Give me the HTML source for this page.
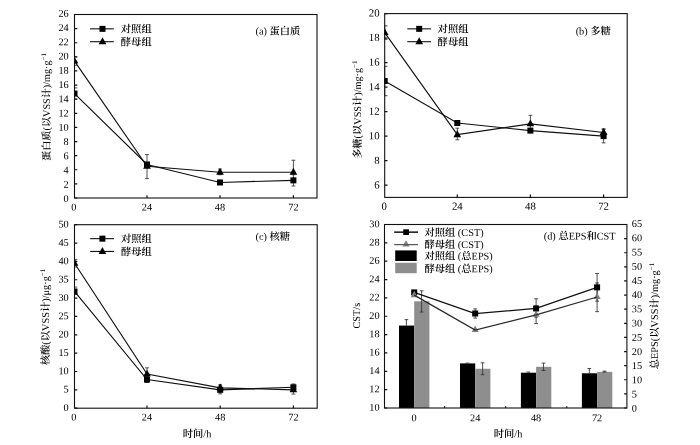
<!DOCTYPE html>
<html lang="zh"><head><meta charset="utf-8"><title>EPS</title>
<style>html,body{margin:0;padding:0;background:#fff}svg{display:block}text{font-family:"Liberation Serif", "Noto Serif CJK SC", serif;fill:#000;text-rendering:geometricPrecision}.c{font-weight:600}</style></head><body>
<svg width="700" height="445" viewBox="0 0 700 445">
<rect width="700" height="445" fill="#fff"/>
<clipPath id="ca"><rect x="74" y="10.5" width="243.5" height="191.5"/></clipPath>
<text transform="rotate(.05 68.7 202.08)" x="68.7" y="202.08" font-size="10.3" text-anchor="end">0</text>
<text transform="rotate(.05 68.7 187.84)" x="68.7" y="187.84" font-size="10.3" text-anchor="end">2</text>
<text transform="rotate(.05 68.7 173.59)" x="68.7" y="173.59" font-size="10.3" text-anchor="end">4</text>
<text transform="rotate(.05 68.7 159.34)" x="68.7" y="159.34" font-size="10.3" text-anchor="end">6</text>
<text transform="rotate(.05 68.7 145.1)" x="68.7" y="145.1" font-size="10.3" text-anchor="end">8</text>
<text transform="rotate(.05 68.7 130.85)" x="68.7" y="130.85" font-size="10.3" text-anchor="end">10</text>
<text transform="rotate(.05 68.7 116.6)" x="68.7" y="116.6" font-size="10.3" text-anchor="end">12</text>
<text transform="rotate(.05 68.7 102.36)" x="68.7" y="102.36" font-size="10.3" text-anchor="end">14</text>
<text transform="rotate(.05 68.7 88.11)" x="68.7" y="88.11" font-size="10.3" text-anchor="end">16</text>
<text transform="rotate(.05 68.7 73.87)" x="68.7" y="73.87" font-size="10.3" text-anchor="end">18</text>
<text transform="rotate(.05 68.7 59.62)" x="68.7" y="59.62" font-size="10.3" text-anchor="end">20</text>
<text transform="rotate(.05 68.7 45.37)" x="68.7" y="45.37" font-size="10.3" text-anchor="end">22</text>
<text transform="rotate(.05 68.7 31.13)" x="68.7" y="31.13" font-size="10.3" text-anchor="end">24</text>
<text transform="rotate(.05 68.7 16.88)" x="68.7" y="16.88" font-size="10.3" text-anchor="end">26</text>
<text transform="rotate(.05 73.9 210.5)" x="73.9" y="210.5" font-size="10.3" text-anchor="middle">0</text>
<text transform="rotate(.05 147 210.5)" x="147" y="210.5" font-size="10.3" text-anchor="middle">24</text>
<text transform="rotate(.05 220 210.5)" x="220" y="210.5" font-size="10.3" text-anchor="middle">48</text>
<text transform="rotate(.05 293.4 210.5)" x="293.4" y="210.5" font-size="10.3" text-anchor="middle">72</text>
<path d="M74.5 198h2.8M74.5 183.88h2.8M74.5 169.77h2.8M74.5 155.65h2.8M74.5 141.54h2.8M74.5 127.42h2.8M74.5 113.31h2.8M74.5 99.19h2.8M74.5 85.08h2.8M74.5 70.96h2.8M74.5 56.85h2.8M74.5 42.73h2.8M74.5 28.62h2.8M74.5 14.5h2.8M147 198v-2.8M220 198v-2.8M293.4 198v-2.8" stroke="#111" stroke-width="1.2" fill="none"/>
<g clip-path="url(#ca)">
<polyline fill="none" stroke="#111" stroke-width="1.15" points="74.5,93.55 147,164.48 220,182.47 293.4,180.36"/>
<polyline fill="none" stroke="#111" stroke-width="1.15" points="74.5,61.08 147,166.24 220,172.24 293.4,172.24"/>
<path d="M71.7 87.9h5.6M71.7 99.19h5.6M74.5 87.9V99.19" stroke="#2a2a2a" stroke-width="0.85" fill="none"/>
<path d="M145.1 154.6h3.8M145.1 178.59h3.8M147 154.6V178.59" stroke="#333" stroke-width="0.85" fill="none"/>
<path d="M218.1 181.06h3.8M218.1 183.88h3.8M220 181.06V183.88" stroke="#333" stroke-width="0.85" fill="none"/>
<path d="M291.5 174.71h3.8M291.5 186h3.8M293.4 174.71V186" stroke="#333" stroke-width="0.85" fill="none"/>
<path d="M71.7 56.85h5.6M71.7 65.32h5.6M74.5 56.85V65.32" stroke="#2a2a2a" stroke-width="0.85" fill="none"/>
<path d="M218.1 169.06h3.8M218.1 174.71h3.8M220 169.06V174.71" stroke="#333" stroke-width="0.85" fill="none"/>
<path d="M291.5 160.24h3.8M291.5 172.59h3.8M293.4 160.24V172.59" stroke="#333" stroke-width="0.85" fill="none"/>
<rect x="71.5" y="90.55" width="6.0" height="6.0" fill="#000"/>
<rect x="144" y="161.48" width="6.0" height="6.0" fill="#000"/>
<rect x="217" y="179.47" width="6.0" height="6.0" fill="#000"/>
<rect x="290.4" y="177.36" width="6.0" height="6.0" fill="#000"/>
<polygon points="74.5,56.66 70.65,63.56 78.35,63.56" fill="#000"/>
<polygon points="147,161.82 143.15,168.72 150.85,168.72" fill="#000"/>
<polygon points="220,167.82 216.15,174.72 223.85,174.72" fill="#000"/>
<polygon points="293.4,167.82 289.55,174.72 297.25,174.72" fill="#000"/>
</g>
<rect x="74.5" y="14.5" width="242.5" height="183.5" fill="none" stroke="#111" stroke-width="1.1"/>
<line x1="90" y1="28.85" x2="113.8" y2="28.85" stroke="#111" stroke-width="1.1"/>
<rect x="99.5" y="25.85" width="6.0" height="6.0" fill="#000"/>
<line x1="90" y1="41.7" x2="113.8" y2="41.7" stroke="#111" stroke-width="1.1"/>
<polygon points="102.5,37.28 98.65,44.18 106.35,44.18" fill="#000"/>
<text transform="rotate(.05 120.8 32.55)" x="120.8" y="32.55" font-size="10.3"><tspan class="c">对照组</tspan></text>
<text transform="rotate(.05 120.8 45.4)" x="120.8" y="45.4" font-size="10.3"><tspan class="c">酵母组</tspan></text>
<text transform="rotate(.05 255.5 34.5)" x="255.5" y="34.5" font-size="10.3">(a) <tspan class="c">蛋白质</tspan></text>
<text transform="translate(49.5,107) rotate(-90)" font-size="10.17" text-anchor="middle"><tspan class="c">蛋白质</tspan>(<tspan class="c">以</tspan>VSS<tspan class="c">计</tspan>)/mg·g<tspan dy="-4" font-size="7">−1</tspan></text>
<clipPath id="cb"><rect x="384.2" y="9.6" width="243.5" height="191.8"/></clipPath>
<text transform="rotate(.05 379.6 188.56)" x="379.6" y="188.56" font-size="10.8" text-anchor="end">6</text>
<text transform="rotate(.05 379.6 163.97)" x="379.6" y="163.97" font-size="10.8" text-anchor="end">8</text>
<text transform="rotate(.05 379.6 139.38)" x="379.6" y="139.38" font-size="10.8" text-anchor="end">10</text>
<text transform="rotate(.05 379.6 114.8)" x="379.6" y="114.8" font-size="10.8" text-anchor="end">12</text>
<text transform="rotate(.05 379.6 90.21)" x="379.6" y="90.21" font-size="10.8" text-anchor="end">14</text>
<text transform="rotate(.05 379.6 65.62)" x="379.6" y="65.62" font-size="10.8" text-anchor="end">16</text>
<text transform="rotate(.05 379.6 41.04)" x="379.6" y="41.04" font-size="10.8" text-anchor="end">18</text>
<text transform="rotate(.05 379.6 16.45)" x="379.6" y="16.45" font-size="10.8" text-anchor="end">20</text>
<text transform="rotate(.05 384.1 209.7)" x="384.1" y="209.7" font-size="10.8" text-anchor="middle">0</text>
<text transform="rotate(.05 457.3 209.7)" x="457.3" y="209.7" font-size="10.8" text-anchor="middle">24</text>
<text transform="rotate(.05 530.4 209.7)" x="530.4" y="209.7" font-size="10.8" text-anchor="middle">48</text>
<text transform="rotate(.05 603.6 209.7)" x="603.6" y="209.7" font-size="10.8" text-anchor="middle">72</text>
<path d="M384.7 185.15h2.8M384.7 160.64h2.8M384.7 136.13h2.8M384.7 111.63h2.8M384.7 87.12h2.8M384.7 62.61h2.8M384.7 38.11h2.8M384.7 13.6h2.8M457.3 197.4v-2.8M530.4 197.4v-2.8M603.6 197.4v-2.8" stroke="#111" stroke-width="1.2" fill="none"/>
<g clip-path="url(#cb)">
<polyline fill="none" stroke="#111" stroke-width="1.15" points="384.7,80.99 457.3,123.02 530.4,130.62 603.6,136.13"/>
<polyline fill="none" stroke="#111" stroke-width="1.15" points="384.7,32.59 457.3,134.66 530.4,123.88 603.6,132.46"/>
<path d="M381.9 66.29h5.6M381.9 95.7h5.6M384.7 66.29V95.7" stroke="#2a2a2a" stroke-width="0.85" fill="none"/>
<path d="M601.7 129.39h3.8M601.7 142.87h3.8M603.6 129.39V142.87" stroke="#333" stroke-width="0.85" fill="none"/>
<path d="M381.9 25.85h5.6M381.9 39.33h5.6M384.7 25.85V39.33" stroke="#2a2a2a" stroke-width="0.85" fill="none"/>
<path d="M455.4 128.17h3.8M455.4 139.81h3.8M457.3 128.17V139.81" stroke="#333" stroke-width="0.85" fill="none"/>
<path d="M528.5 115.3h3.8M528.5 132.46h3.8M530.4 115.3V132.46" stroke="#333" stroke-width="0.85" fill="none"/>
<path d="M601.7 128.78h3.8M601.7 136.13h3.8M603.6 128.78V136.13" stroke="#333" stroke-width="0.85" fill="none"/>
<rect x="381.7" y="77.99" width="6.0" height="6.0" fill="#000"/>
<rect x="454.3" y="120.02" width="6.0" height="6.0" fill="#000"/>
<rect x="527.4" y="127.62" width="6.0" height="6.0" fill="#000"/>
<rect x="600.6" y="133.13" width="6.0" height="6.0" fill="#000"/>
<polygon points="384.7,28.18 380.85,35.08 388.55,35.08" fill="#000"/>
<polygon points="457.3,130.25 453.45,137.15 461.15,137.15" fill="#000"/>
<polygon points="530.4,119.46 526.55,126.36 534.25,126.36" fill="#000"/>
<polygon points="603.6,128.04 599.75,134.94 607.45,134.94" fill="#000"/>
</g>
<rect x="384.7" y="13.6" width="242.5" height="183.8" fill="none" stroke="#111" stroke-width="1.1"/>
<line x1="407.3" y1="28.85" x2="431" y2="28.85" stroke="#111" stroke-width="1.1"/>
<rect x="416.2" y="25.85" width="6.0" height="6.0" fill="#000"/>
<line x1="407.3" y1="41.7" x2="431" y2="41.7" stroke="#111" stroke-width="1.1"/>
<polygon points="419.2,37.28 415.35,44.18 423.05,44.18" fill="#000"/>
<text transform="rotate(.05 437.6 32.55)" x="437.6" y="32.55" font-size="10.3"><tspan class="c">对照组</tspan></text>
<text transform="rotate(.05 437.6 45.4)" x="437.6" y="45.4" font-size="10.3"><tspan class="c">酵母组</tspan></text>
<text transform="rotate(.05 575.7 34.4)" x="575.7" y="34.4" font-size="10.3">(b) <tspan class="c">多糖</tspan></text>
<text transform="translate(360.7,109.65) rotate(-90)" font-size="10.24" text-anchor="middle"><tspan class="c">多糖</tspan>(<tspan class="c">以</tspan>VSS<tspan class="c">计</tspan>)/mg·g<tspan dy="-4" font-size="7">−1</tspan></text>
<clipPath id="cc"><rect x="74" y="220.7" width="243.7" height="191.5"/></clipPath>
<text transform="rotate(.05 68.7 410.98)" x="68.7" y="410.98" font-size="10.3" text-anchor="end">0</text>
<text transform="rotate(.05 68.7 392.64)" x="68.7" y="392.64" font-size="10.3" text-anchor="end">5</text>
<text transform="rotate(.05 68.7 374.3)" x="68.7" y="374.3" font-size="10.3" text-anchor="end">10</text>
<text transform="rotate(.05 68.7 355.96)" x="68.7" y="355.96" font-size="10.3" text-anchor="end">15</text>
<text transform="rotate(.05 68.7 337.62)" x="68.7" y="337.62" font-size="10.3" text-anchor="end">20</text>
<text transform="rotate(.05 68.7 319.28)" x="68.7" y="319.28" font-size="10.3" text-anchor="end">25</text>
<text transform="rotate(.05 68.7 300.94)" x="68.7" y="300.94" font-size="10.3" text-anchor="end">30</text>
<text transform="rotate(.05 68.7 282.6)" x="68.7" y="282.6" font-size="10.3" text-anchor="end">35</text>
<text transform="rotate(.05 68.7 264.26)" x="68.7" y="264.26" font-size="10.3" text-anchor="end">40</text>
<text transform="rotate(.05 68.7 245.92)" x="68.7" y="245.92" font-size="10.3" text-anchor="end">45</text>
<text transform="rotate(.05 68.7 227.58)" x="68.7" y="227.58" font-size="10.3" text-anchor="end">50</text>
<text transform="rotate(.05 73.9 420.6)" x="73.9" y="420.6" font-size="10.3" text-anchor="middle">0</text>
<text transform="rotate(.05 147 420.6)" x="147" y="420.6" font-size="10.3" text-anchor="middle">24</text>
<text transform="rotate(.05 220.2 420.6)" x="220.2" y="420.6" font-size="10.3" text-anchor="middle">48</text>
<text transform="rotate(.05 293.4 420.6)" x="293.4" y="420.6" font-size="10.3" text-anchor="middle">72</text>
<path d="M74.5 408.2h2.8M74.5 389.85h2.8M74.5 371.5h2.8M74.5 353.15h2.8M74.5 334.8h2.8M74.5 316.45h2.8M74.5 298.1h2.8M74.5 279.75h2.8M74.5 261.4h2.8M74.5 243.05h2.8M74.5 224.7h2.8M147 408.2v-2.8M220.2 408.2v-2.8M293.4 408.2v-2.8" stroke="#111" stroke-width="1.2" fill="none"/>
<g clip-path="url(#cc)">
<polyline fill="none" stroke="#111" stroke-width="1.15" points="74.5,291.49 147,379.57 220.2,389.85 293.4,387.28"/>
<polyline fill="none" stroke="#111" stroke-width="1.15" points="74.5,263.24 147,374.07 220.2,387.83 293.4,389.85"/>
<path d="M71.7 287.09h5.6M71.7 294.43h5.6M74.5 287.09V294.43" stroke="#2a2a2a" stroke-width="0.85" fill="none"/>
<path d="M145.1 376.64h3.8M145.1 382.51h3.8M147 376.64V382.51" stroke="#333" stroke-width="0.85" fill="none"/>
<path d="M218.3 385.81h3.8M218.3 393.89h3.8M220.2 385.81V393.89" stroke="#333" stroke-width="0.85" fill="none"/>
<path d="M291.5 383.98h3.8M291.5 389.85h3.8M293.4 383.98V389.85" stroke="#333" stroke-width="0.85" fill="none"/>
<path d="M71.7 259.56h5.6M71.7 266.9h5.6M74.5 259.56V266.9" stroke="#2a2a2a" stroke-width="0.85" fill="none"/>
<path d="M145.1 367.83h3.8M145.1 380.31h3.8M147 367.83V380.31" stroke="#333" stroke-width="0.85" fill="none"/>
<path d="M218.3 384.71h3.8M218.3 389.85h3.8M220.2 384.71V389.85" stroke="#333" stroke-width="0.85" fill="none"/>
<path d="M291.5 385.45h3.8M291.5 394.07h3.8M293.4 385.45V394.07" stroke="#333" stroke-width="0.85" fill="none"/>
<rect x="71.5" y="288.49" width="6.0" height="6.0" fill="#000"/>
<rect x="144" y="376.57" width="6.0" height="6.0" fill="#000"/>
<rect x="217.2" y="386.85" width="6.0" height="6.0" fill="#000"/>
<rect x="290.4" y="384.28" width="6.0" height="6.0" fill="#000"/>
<polygon points="74.5,258.82 70.65,265.72 78.35,265.72" fill="#000"/>
<polygon points="147,369.65 143.15,376.55 150.85,376.55" fill="#000"/>
<polygon points="220.2,383.42 216.35,390.32 224.05,390.32" fill="#000"/>
<polygon points="293.4,385.43 289.55,392.33 297.25,392.33" fill="#000"/>
</g>
<rect x="74.5" y="224.7" width="242.7" height="183.5" fill="none" stroke="#111" stroke-width="1.1"/>
<line x1="90.2" y1="238.65" x2="114" y2="238.65" stroke="#111" stroke-width="1.1"/>
<rect x="99.4" y="235.65" width="6.0" height="6.0" fill="#000"/>
<line x1="90.2" y1="251.45" x2="114" y2="251.45" stroke="#111" stroke-width="1.1"/>
<polygon points="102.4,247.03 98.55,253.93 106.25,253.93" fill="#000"/>
<text transform="rotate(.05 121 242.35)" x="121" y="242.35" font-size="10.3"><tspan class="c">对照组</tspan></text>
<text transform="rotate(.05 121 255.15)" x="121" y="255.15" font-size="10.3"><tspan class="c">酵母组</tspan></text>
<text transform="rotate(.05 255.5 240)" x="255.5" y="240" font-size="10.3">(c) <tspan class="c">核糖</tspan></text>
<text transform="translate(49.2,317) rotate(-90)" font-size="10.3" text-anchor="middle"><tspan class="c">核酸</tspan>(<tspan class="c">以</tspan>VSS<tspan class="c">计</tspan>)/μg·g<tspan dy="-4" font-size="7">−1</tspan></text>
<text transform="rotate(.05 197 437.3)" x="197" y="437.3" font-size="10.3" text-anchor="middle"><tspan class="c">时间</tspan>/h</text>
<rect x="399" y="325.57" width="15.2" height="82.43" fill="#000"/>
<path d="M406.4 325.57V319.64m-1.8 0h3.6" stroke="#333" stroke-width="0.9" fill="none"/>
<rect x="460" y="363.4" width="15.2" height="44.6" fill="#000"/>
<path d="M467.4 363.4V363.11m-1.8 0h3.6" stroke="#333" stroke-width="0.9" fill="none"/>
<rect x="520.9" y="372.71" width="15.2" height="35.29" fill="#000"/>
<path d="M528.3 372.71V372.01m-1.8 0h3.6" stroke="#333" stroke-width="0.9" fill="none"/>
<rect x="581.9" y="373.28" width="15.2" height="34.72" fill="#000"/>
<path d="M589.3 373.28V368.48m-1.8 0h3.6" stroke="#333" stroke-width="0.9" fill="none"/>
<rect x="414.2" y="301.29" width="15.2" height="106.71" fill="#8e8e8e"/>
<path d="M419.7 290.84h3.8M419.7 312.02h3.8M421.6 290.84V312.02" stroke="#333" stroke-width="0.85" fill="none"/>
<rect x="475.2" y="368.76" width="15.2" height="39.24" fill="#8e8e8e"/>
<path d="M480.7 362.83h3.8M480.7 374.69h3.8M482.6 362.83V374.69" stroke="#333" stroke-width="0.85" fill="none"/>
<rect x="536.1" y="366.78" width="15.2" height="41.22" fill="#8e8e8e"/>
<path d="M541.6 363.11h3.8M541.6 370.45h3.8M543.5 363.11V370.45" stroke="#333" stroke-width="0.85" fill="none"/>
<rect x="597.1" y="371.86" width="15.2" height="36.14" fill="#8e8e8e"/>
<path d="M602.6 371.16h3.8M602.6 372.01h3.8M604.5 371.16V372.01" stroke="#333" stroke-width="0.85" fill="none"/>
<text transform="rotate(.05 379.6 410.68)" x="379.6" y="410.68" font-size="10.3" text-anchor="end">10</text>
<text transform="rotate(.05 379.6 392.33)" x="379.6" y="392.33" font-size="10.3" text-anchor="end">12</text>
<text transform="rotate(.05 379.6 373.98)" x="379.6" y="373.98" font-size="10.3" text-anchor="end">14</text>
<text transform="rotate(.05 379.6 355.63)" x="379.6" y="355.63" font-size="10.3" text-anchor="end">16</text>
<text transform="rotate(.05 379.6 337.28)" x="379.6" y="337.28" font-size="10.3" text-anchor="end">18</text>
<text transform="rotate(.05 379.6 318.93)" x="379.6" y="318.93" font-size="10.3" text-anchor="end">20</text>
<text transform="rotate(.05 379.6 300.58)" x="379.6" y="300.58" font-size="10.3" text-anchor="end">22</text>
<text transform="rotate(.05 379.6 282.23)" x="379.6" y="282.23" font-size="10.3" text-anchor="end">24</text>
<text transform="rotate(.05 379.6 263.88)" x="379.6" y="263.88" font-size="10.3" text-anchor="end">26</text>
<text transform="rotate(.05 379.6 245.53)" x="379.6" y="245.53" font-size="10.3" text-anchor="end">28</text>
<text transform="rotate(.05 379.6 227.18)" x="379.6" y="227.18" font-size="10.3" text-anchor="end">30</text>
<text transform="rotate(.05 631.8 411.68)" x="631.8" y="411.68" font-size="10.3">0</text>
<text transform="rotate(.05 631.8 397.48)" x="631.8" y="397.48" font-size="10.3">5</text>
<text transform="rotate(.05 631.8 383.28)" x="631.8" y="383.28" font-size="10.3">10</text>
<text transform="rotate(.05 631.8 369.08)" x="631.8" y="369.08" font-size="10.3">15</text>
<text transform="rotate(.05 631.8 354.88)" x="631.8" y="354.88" font-size="10.3">20</text>
<text transform="rotate(.05 631.8 340.68)" x="631.8" y="340.68" font-size="10.3">25</text>
<text transform="rotate(.05 631.8 326.48)" x="631.8" y="326.48" font-size="10.3">30</text>
<text transform="rotate(.05 631.8 312.28)" x="631.8" y="312.28" font-size="10.3">35</text>
<text transform="rotate(.05 631.8 298.08)" x="631.8" y="298.08" font-size="10.3">40</text>
<text transform="rotate(.05 631.8 283.88)" x="631.8" y="283.88" font-size="10.3">45</text>
<text transform="rotate(.05 631.8 269.68)" x="631.8" y="269.68" font-size="10.3">50</text>
<text transform="rotate(.05 631.8 255.48)" x="631.8" y="255.48" font-size="10.3">55</text>
<text transform="rotate(.05 631.8 241.28)" x="631.8" y="241.28" font-size="10.3">60</text>
<text transform="rotate(.05 631.8 227.08)" x="631.8" y="227.08" font-size="10.3">65</text>
<text transform="rotate(.05 414.2 421.2)" x="414.2" y="421.2" font-size="10.3" text-anchor="middle">0</text>
<text transform="rotate(.05 475.2 421.2)" x="475.2" y="421.2" font-size="10.3" text-anchor="middle">24</text>
<text transform="rotate(.05 536.1 421.2)" x="536.1" y="421.2" font-size="10.3" text-anchor="middle">48</text>
<text transform="rotate(.05 597.1 421.2)" x="597.1" y="421.2" font-size="10.3" text-anchor="middle">72</text>
<path d="M384.5 408h2.8M384.5 389.65h2.8M384.5 371.3h2.8M384.5 352.95h2.8M384.5 334.6h2.8M384.5 316.25h2.8M384.5 297.9h2.8M384.5 279.55h2.8M384.5 261.2h2.8M384.5 242.85h2.8M384.5 224.5h2.8M626.9 408h-2.8M626.9 393.88h-2.8M626.9 379.77h-2.8M626.9 365.65h-2.8M626.9 351.54h-2.8M626.9 337.42h-2.8M626.9 323.31h-2.8M626.9 309.19h-2.8M626.9 295.08h-2.8M626.9 280.96h-2.8M626.9 266.85h-2.8M626.9 252.73h-2.8M626.9 238.62h-2.8M626.9 224.5h-2.8M444.6 408v-1.8M505.6 408v-1.8M566.7 408v-1.8" stroke="#111" stroke-width="1.2" fill="none"/>
<path d="M473.3 308.91h3.8M473.3 318.08h3.8M475.2 308.91V318.08" stroke="#333" stroke-width="0.85" fill="none"/>
<path d="M534.2 298.82h3.8M534.2 317.17h3.8M536.1 298.82V317.17" stroke="#333" stroke-width="0.85" fill="none"/>
<path d="M595.2 273.59h3.8M595.2 301.2h3.8M597.1 273.59V301.2" stroke="#333" stroke-width="0.85" fill="none"/>
<path d="M534.2 306.16h3.8M534.2 323.59h3.8M536.1 306.16V323.59" stroke="#333" stroke-width="0.85" fill="none"/>
<path d="M595.2 282.94h3.8M595.2 311.66h3.8M597.1 282.94V311.66" stroke="#333" stroke-width="0.85" fill="none"/>
<polyline fill="none" stroke="#111" stroke-width="1.25" points="414.2,292.39 475.2,313.5 536.1,308.45 597.1,287.35"/>
<rect x="411.2" y="289.39" width="6.0" height="6.0" fill="#000"/>
<rect x="472.2" y="310.5" width="6.0" height="6.0" fill="#000"/>
<rect x="533.1" y="305.45" width="6.0" height="6.0" fill="#000"/>
<rect x="594.1" y="284.35" width="6.0" height="6.0" fill="#000"/>
<polygon points="414.2,290.75 410.7,297.15 417.7,297.15" fill="#808080"/>
<polygon points="475.2,325.61 471.7,332.01 478.7,332.01" fill="#808080"/>
<polygon points="536.1,310.47 532.6,316.87 539.6,316.87" fill="#808080"/>
<polygon points="597.1,292.58 593.6,298.98 600.6,298.98" fill="#808080"/>
<polyline fill="none" stroke="#2a2a2a" stroke-width="1.25" points="414.2,295.15 475.2,330.01 536.1,314.87 597.1,296.98"/>
<rect x="384.5" y="224.5" width="242.4" height="183.5" fill="none" stroke="#111" stroke-width="1.1"/>
<line x1="394.2" y1="232.15" x2="418" y2="232.15" stroke="#111" stroke-width="1.5"/>
<rect x="403.25" y="229.3" width="5.7" height="5.7" fill="#000"/>
<polygon points="406,240.2 402.4,246.6 409.6,246.6" fill="#808080"/>
<line x1="394.2" y1="244.6" x2="418" y2="244.6" stroke="#5a5a5a" stroke-width="1.3"/>
<rect x="395.2" y="250.4" width="21.5" height="10.6" fill="#000"/>
<rect x="395.2" y="262.8" width="21.5" height="10.4" fill="#8e8e8e"/>
<text transform="rotate(.05 424.4 236)" x="424.4" y="236" font-size="10.3"><tspan class="c">对照组</tspan> (CST)</text>
<text transform="rotate(.05 424.4 247.9)" x="424.4" y="247.9" font-size="10.3"><tspan class="c">酵母组</tspan> (CST)</text>
<text transform="rotate(.05 424.4 259.5)" x="424.4" y="259.5" font-size="10.3"><tspan class="c">对照组</tspan> (<tspan class="c">总</tspan>EPS)</text>
<text transform="rotate(.05 424.4 272.2)" x="424.4" y="272.2" font-size="10.3"><tspan class="c">酵母组</tspan> (<tspan class="c">总</tspan>EPS)</text>
<text transform="rotate(.05 543.8 239.5)" x="543.8" y="239.5" font-size="10.3">(d) <tspan class="c">总</tspan>EPS<tspan class="c">和</tspan>CST</text>
<text transform="rotate(.05 508 437.3)" x="508" y="437.3" font-size="10.3" text-anchor="middle"><tspan class="c">时间</tspan>/h</text>
<text transform="translate(360.2,315.7) rotate(-90)" font-size="10.3" text-anchor="middle">CST/s</text>
<text transform="translate(657.5,316) rotate(-90)" font-size="10.3" text-anchor="middle"><tspan class="c">总</tspan>EPS(<tspan class="c">以</tspan>VSS<tspan class="c">计</tspan>)/mg·g<tspan dy="-4" font-size="7">−1</tspan></text>
</svg></body></html>
